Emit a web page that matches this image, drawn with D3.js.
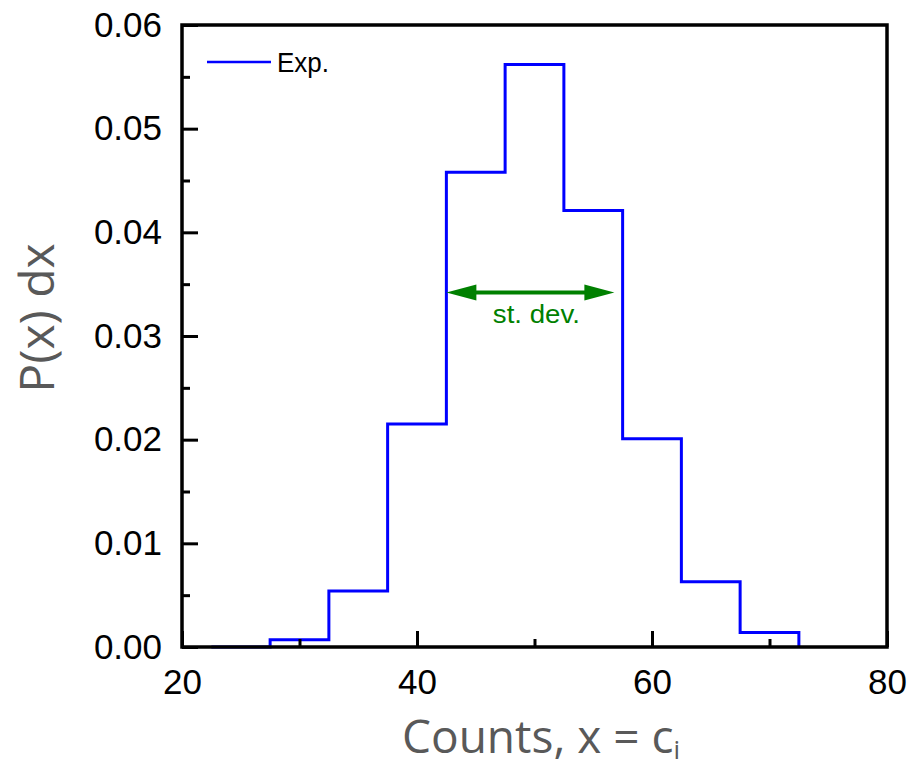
<!DOCTYPE html>
<html><head><meta charset="utf-8">
<script src="https://cdn.jsdelivr.net/npm/d3@7"></script>
<style>body{margin:0;background:#fff}svg{display:block}</style>
</head><body>
<svg id="c" width="915" height="769"></svg>
<script>
// Data
const binCenters = [25, 30, 35, 40, 45, 50, 55, 60, 65, 70];
const binWidth = 5;
const probValues = [0, 0.0007, 0.0054, 0.0215, 0.0458, 0.0562, 0.0421, 0.0201, 0.0063, 0.0014];
const xTicksMajor = [20, 40, 60, 80];
const xTicksMinor = [30, 50, 70];
const yTicksMajor = [0, 0.01, 0.02, 0.03, 0.04, 0.05, 0.06];
const yTicksMinor = [0.005, 0.015, 0.025, 0.035, 0.045, 0.055];
const seriesName = "Exp.";
const stdArrow = {x0: 42.5, x1: 56.8, y: 0.0342, label: "st. dev."};
const xTitle = "Counts, x = c";
const xTitleSub = "i";
const yTitle = "P(x) dx";

const svg = d3.select("#c");
const L = 182, R = 887, T = 25, B = 647;
const x = d3.scaleLinear().domain([20, 80]).range([L, R]);
const y = d3.scaleLinear().domain([0, 0.06]).range([B, T]);

// step outline
const pts = [];
binCenters.forEach((c, i) => {
  pts.push([c - binWidth / 2, probValues[i]]);
  pts.push([c + binWidth / 2, probValues[i]]);
});
pts.push([binCenters[binCenters.length - 1] + binWidth / 2, 0]);
const line = d3.line().x(d => x(d[0])).y(d => y(d[1]));
svg.append("path").attr("d", line(pts)).attr("fill", "none")
  .attr("stroke", "#0000ff").attr("stroke-width", 3).attr("stroke-linejoin", "miter");

// axes
const fontTick = "'Liberation Sans', Arial, sans-serif";
const xAxisMaj = d3.axisBottom(x).tickValues(xTicksMajor).tickSize(-16).tickSizeOuter(0).tickPadding(22).tickFormat(d3.format("d"));
const xAxisMin = d3.axisBottom(x).tickValues(xTicksMinor).tickSize(-8).tickSizeOuter(0).tickFormat("");
const yAxisMaj = d3.axisLeft(y).tickValues(yTicksMajor).tickSize(-16).tickSizeOuter(0).tickPadding(20).tickFormat(d3.format(".2f"));
const yAxisMin = d3.axisLeft(y).tickValues(yTicksMinor).tickSize(-8).tickSizeOuter(0).tickFormat("");

function style(g) {
  g.select(".domain").remove();
  g.selectAll(".tick line").attr("stroke", "#000").attr("stroke-width", 3);
  g.selectAll(".tick text").attr("fill", "#000").style("font-family", fontTick).style("font-size", "35px");
}
svg.append("g").attr("transform", `translate(0,${B})`).call(xAxisMaj).call(style);
svg.append("g").attr("transform", `translate(0,${B})`).call(xAxisMin).call(style);
svg.append("g").attr("transform", `translate(${L},0)`).call(yAxisMaj).call(style);
svg.append("g").attr("transform", `translate(${L},0)`).call(yAxisMin).call(style);

// frame
svg.append("rect").attr("x", L).attr("y", T).attr("width", R - L).attr("height", B - T)
  .attr("fill", "none").attr("stroke", "#000").attr("stroke-width", 3.5);

// legend
svg.append("line").attr("x1", 207).attr("x2", 271).attr("y1", 62).attr("y2", 62)
  .attr("stroke", "#0000ff").attr("stroke-width", 2.5);
svg.append("text").attr("x", 277).attr("y", 72).text(seriesName)
  .style("font-family", fontTick).style("font-size", "27px").attr("fill", "#000")
  .attr("textLength", 52).attr("lengthAdjust", "spacingAndGlyphs");

// std dev arrow
const ax0 = x(stdArrow.x0), ax1 = x(stdArrow.x1), ay = y(stdArrow.y);
const headL = 30, headW = 8;
svg.append("line").attr("x1", ax0 + headL - 2).attr("x2", ax1 - headL + 2).attr("y1", ay).attr("y2", ay)
  .attr("stroke", "#008000").attr("stroke-width", 4);
svg.append("path").attr("d", `M${ax0},${ay} L${ax0 + headL},${ay - headW} L${ax0 + headL},${ay + headW} Z`).attr("fill", "#008000");
svg.append("path").attr("d", `M${ax1},${ay} L${ax1 - headL},${ay - headW} L${ax1 - headL},${ay + headW} Z`).attr("fill", "#008000");
svg.append("text").attr("x", (ax0 + ax1) / 2 + 6).attr("y", ay + 31).attr("text-anchor", "middle")
  .text(stdArrow.label).style("font-family", fontTick).style("font-size", "25px").attr("fill", "#008000")
  .attr("textLength", 87).attr("lengthAdjust", "spacingAndGlyphs");

// axis titles
const titleFont = "'Open Sans', 'Noto Sans', sans-serif";
const xt = svg.append("text").attr("x", 402).attr("y", 753).attr("text-anchor", "start")
  .style("font-family", titleFont).style("font-size", "46px").attr("fill", "#595959");
xt.append("tspan").text(xTitle);
xt.append("tspan").text(xTitleSub).attr("dy", 6).style("font-size", "26px");
svg.append("text").attr("transform", `translate(54,${318}) rotate(-90)`).attr("text-anchor", "middle")
  .style("font-family", titleFont).style("font-size", "48px").attr("fill", "#595959").text(yTitle);
</script>
</body></html>
